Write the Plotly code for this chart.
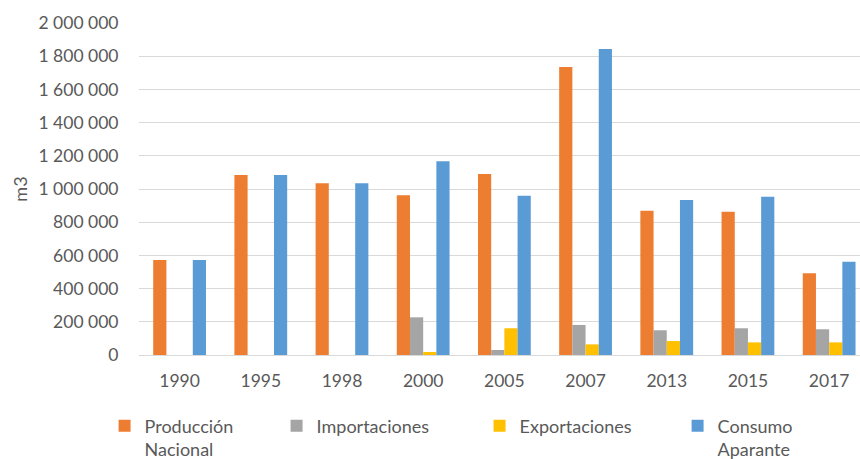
import plotly.graph_objects as go

years = ["1990", "1995", "1998", "2000", "2005", "2007", "2013", "2015", "2017"]
produccion = [572000, 1084000, 1034000, 962000, 1090000, 1735000, 869000, 863000, 492000]
importaciones = [0, 0, 0, 227000, 30000, 181000, 149000, 161000, 155000]
exportaciones = [0, 0, 0, 18000, 161000, 64000, 84000, 76000, 76000]
consumo = [572000, 1084000, 1034000, 1167000, 959000, 1843000, 934000, 954000, 562000]

series = [
    ("Producción<br>Nacional", produccion, "#ED7D31"),
    ("Importaciones", importaciones, "#A5A5A5"),
    ("Exportaciones", exportaciones, "#FFC000"),
    ("Consumo<br>Aparante", consumo, "#5B9BD5"),
]

FONT = "Lato, sans-serif"
GREY = "#595959"
legend_ids = ["legend", "legend2", "legend3", "legend4"]
legend_x = [0.1216, 0.3216, 0.5576, 0.7879]

fig = go.Figure()
for (name, vals, col), lid in zip(series, legend_ids):
    fig.add_trace(go.Bar(x=years, y=vals, name=name, legend=lid,
                         marker=dict(color=col, line=dict(width=0))))

legend_common = dict(orientation="h", xref="container", yref="container",
                     xanchor="left", y=0.112, yanchor="top", itemwidth=30,
                     font=dict(size=18, color=GREY), valign="top",
                     bgcolor="rgba(0,0,0,0)")

fig.update_layout(
    width=860, height=459,
    margin=dict(l=139, r=0, t=23, b=104, autoexpand=False),
    paper_bgcolor="white", plot_bgcolor="white",
    barmode="group", bargap=0.35, bargroupgap=0,
    separators=". ",
    font=dict(family=FONT, size=17.5, color=GREY),
    showlegend=True,
)
for lid, lx in zip(legend_ids, legend_x):
    fig.update_layout({lid: dict(legend_common, x=lx)})

fig.update_yaxes(range=[0, 2000000], dtick=200000, tickformat=",d", automargin=False,
                 showgrid=True, gridcolor="#D9D9D9", gridwidth=1,
                 zeroline=False, showline=False,
                 ticks="outside", ticklen=16, tickcolor="rgba(0,0,0,0)",
                 title=dict(text="m3", standoff=6, font=dict(size=18, color=GREY)))
fig.update_xaxes(type="category", range=[-0.5, 8.38], automargin=False,
                 showline=True, linecolor="#D9D9D9", linewidth=1,
                 ticks="outside", ticklen=10, tickcolor="rgba(0,0,0,0)")

fig.write_html("out.html", config={"displayModeBar": False},
               post_script="document.body.style.margin='0px';document.body.style.overflow='hidden';")
